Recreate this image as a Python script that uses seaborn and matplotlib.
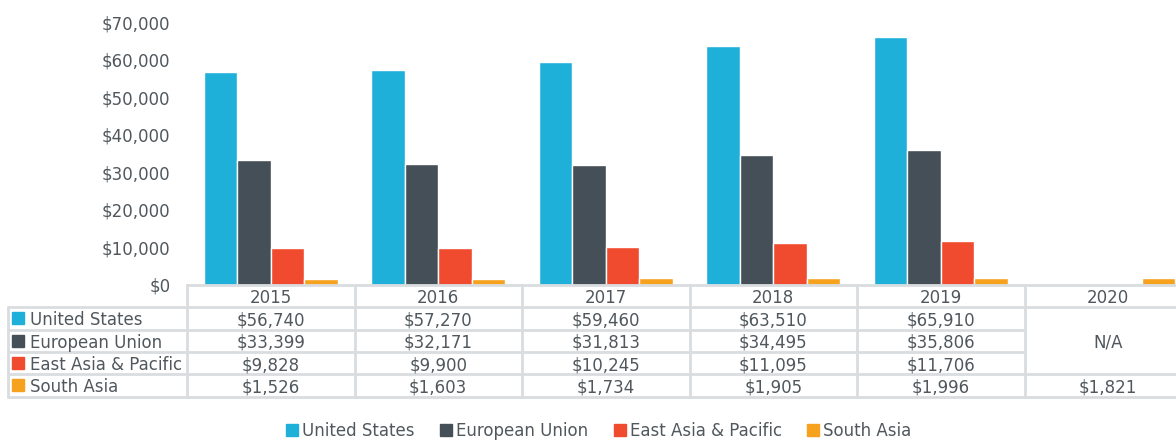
import numpy as np
import pandas as pd
import matplotlib
matplotlib.use("Agg")
import matplotlib.pyplot as plt
import matplotlib.transforms as mtransforms
from matplotlib.lines import Line2D
import seaborn as sns

# data
years = ["2015", "2016", "2017", "2018", "2019", "2020"]
regions = ["United States", "European Union", "East Asia & Pacific", "South Asia"]
us = [56740, 57270, 59460, 63510, 65910, np.nan]
eu = [33399, 32171, 31813, 34495, 35806, np.nan]
eap = [9828, 9900, 10245, 11095, 11706, np.nan]
sa = [1526, 1603, 1734, 1905, 1996, 1821]
colors = ["#1FB0DA", "#454F57", "#F04B2E", "#F6A21E"]

text_col = "#50585D"
line_col = "#D9DDE0"

sns.set_theme(style="white")
plt.rcParams["font.family"] = ["DejaVu Sans"]

df = pd.DataFrame({"year": years * 4,
                   "region": np.repeat(regions, len(years)),
                   "value": us + eu + eap + sa})
df = df.dropna()

fig = plt.figure(figsize=(11.76, 4.42), dpi=100)
ax = fig.add_axes([187 / 1176, 1 - 285 / 442, 1005 / 1176, 263 / 442])

sns.barplot(data=df, x="year", y="value", hue="region", order=years,
            hue_order=regions, palette=colors, saturation=1, width=0.8,
            edgecolor="white", linewidth=1, ax=ax, legend=False)

ax.set_ylim(0, 70000)
ax.set_xlim(-0.5, len(years) - 0.5)
ax.set_yticks(np.arange(0, 70001, 10000))
ax.set_yticklabels(["${:,.0f}".format(v) for v in ax.get_yticks()],
                   fontsize=12, color=text_col)
ax.tick_params(axis="y", length=0, pad=12)
ax.set_xticks([])
ax.set_xlabel("")
ax.set_ylabel("")
for s in ["left", "right", "top"]:
    ax.spines[s].set_visible(False)
ax.spines["bottom"].set_color(line_col)
ax.spines["bottom"].set_linewidth(2)

# data table under the axis
mixed = mtransforms.blended_transform_factory(ax.transData, ax.transAxes)
h = 22.3 / 263
lab_x0 = -179 / 1005
series = [us, eu, eap, sa]
n = len(years)
va = "center_baseline"

def hline(x0, x1, y, trans):
    ax.add_line(Line2D([x0, x1], [y, y], transform=trans, color=line_col,
                       lw=2, clip_on=False))

for i, yr in enumerate(years):
    ax.text(i, -0.5 * h, yr, transform=mixed, ha="center", va=va,
            fontsize=12, color=text_col)

for r, (name, vals) in enumerate(zip(regions, series)):
    yc = -(r + 1.5) * h
    ax.plot([-169 / 1005], [yc], marker="s", ms=8, color=colors[r],
            transform=ax.transAxes, clip_on=False)
    ax.text(-157 / 1005, yc, name, transform=ax.transAxes, ha="left",
            va=va, fontsize=12, color=text_col)
    for i, v in enumerate(vals):
        if not np.isnan(v):
            ax.text(i, yc, "${:,.0f}".format(v), transform=mixed,
                    ha="center", va=va, fontsize=12, color=text_col)
ax.text(n - 1, -2.5 * h, "N/A", transform=mixed, ha="center", va=va,
        fontsize=12, color=text_col)

# grid lines of the table
for k in range(1, 6):
    y = -k * h
    hline(lab_x0, 0, y, ax.transAxes)
    x_end = n - 0.5 if k in (1, 4, 5) else n - 1.5
    hline(-0.5, x_end, y, mixed)
for i in range(n + 1):
    ax.add_line(Line2D([i - 0.5, i - 0.5], [0, -5 * h], transform=mixed,
                       color=line_col, lw=2, clip_on=False))
ax.add_line(Line2D([lab_x0, lab_x0], [-h, -5 * h], transform=ax.transAxes,
                   color=line_col, lw=2, clip_on=False))

handles = [Line2D([], [], marker="s", ls="", ms=8, color=c) for c in colors]
leg = fig.legend(handles, regions, loc="lower center", ncol=4,
                 bbox_to_anchor=(0.508, -0.03), frameon=False, fontsize=12,
                 handletextpad=0.1, columnspacing=1.4, handlelength=1.0)
for t in leg.get_texts():
    t.set_color(text_col)

fig.savefig("out.png", dpi=100)
